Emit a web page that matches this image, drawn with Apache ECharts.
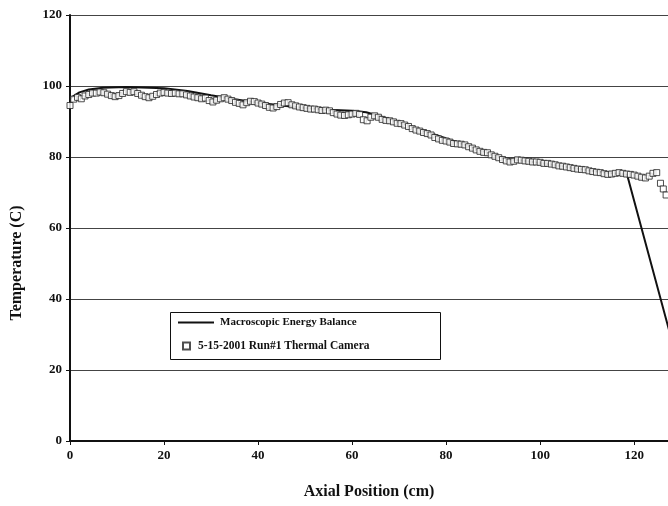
<!DOCTYPE html>
<html>
<head>
<meta charset="utf-8">
<script src="https://cdn.jsdelivr.net/npm/echarts@6/dist/echarts.min.js"></script>
<style>
  html, body { margin: 0; padding: 0; background: #fff; }
  #chart { width: 668px; height: 506px; }
</style>
</head>
<body>
<div id="chart"></div>
<script>
// Macroscopic energy balance model, [axial position (cm), temperature (C)]
const balanceLine = [
  [0, 96.5], [2, 98.2], [4, 99], [7, 99.5], [12, 99.7], [20, 99.4], [25, 98.6],
  [30, 97.4], [35, 96.3], [40, 95.3], [45, 94.5], [50, 93.8], [55, 93.3],
  [60, 93], [63, 92.6], [66, 91.5], [70, 89.8], [75, 87.5], [80, 85.2],
  [85, 83], [90, 80.6], [93, 79.4], [96, 79], [100, 78.3], [105, 77.3],
  [110, 76.3], [115, 75.5], [118.5, 75], [130, 18.6]
];

// Thermal camera readings, 5-15-2001 run #1
const cameraPoints = [
  [0, 94.5], [0.8, 96.3], [1.6, 96.8], [2.4, 96.4], [3.2, 97.2], [4, 97.6], [4.8, 98],
  [5.6, 98], [6.4, 98.3], [7.2, 98.1], [8, 97.7], [8.8, 97.3], [9.6, 97],
  [10.4, 97.3], [11.2, 97.9], [12, 98.4], [12.8, 98.2], [13.6, 98.4], [14.4, 97.9],
  [15.2, 97.4], [16, 97], [16.8, 96.7], [17.6, 97.1], [18.4, 97.6], [19.2, 98],
  [20, 98.2], [20.8, 98], [21.6, 97.9], [22.4, 98], [23.2, 97.8], [24, 97.8],
  [24.8, 97.5], [25.6, 97.2], [26.4, 96.9], [27.2, 96.7], [28, 96.4], [28.8, 96.6],
  [29.6, 95.9], [30.4, 95.5], [31.2, 96], [32, 96.4], [32.8, 96.7], [33.6, 96.3],
  [34.4, 95.9], [35.2, 95.4], [36, 95.1], [36.8, 94.7], [37.6, 95.3], [38.4, 95.7],
  [39.2, 95.6], [40, 95.2], [40.8, 94.9], [41.6, 94.5], [42.4, 94], [43.2, 93.8],
  [44, 94.2], [44.8, 94.8], [45.6, 95.2], [46.4, 95.3], [47.2, 94.7], [48, 94.4],
  [48.8, 94.1], [49.6, 93.9], [50.4, 93.7], [51.2, 93.5], [52, 93.5], [52.8, 93.3],
  [53.6, 93.1], [54.4, 93.2], [55.2, 93], [56, 92.5], [56.8, 92.1], [57.6, 91.8],
  [58.4, 91.7], [59.2, 91.9], [60, 92.1], [60.8, 92.3], [61.6, 92], [62.4, 90.5],
  [63.2, 90.2], [64, 91.2], [64.8, 91.6], [65.6, 91.2], [66.4, 90.6], [67.2, 90.3],
  [68, 90.2], [68.8, 89.9], [69.6, 89.5], [70.4, 89.4], [71.2, 89], [72, 88.6],
  [72.8, 88], [73.6, 87.6], [74.4, 87.3], [75.2, 86.9], [76, 86.6], [76.8, 86.2],
  [77.6, 85.5], [78.4, 85.1], [79.2, 84.7], [80, 84.5], [80.8, 84.2], [81.6, 83.8],
  [82.4, 83.7], [83.2, 83.6], [84, 83.4], [84.8, 82.9], [85.6, 82.5], [86.4, 82],
  [87.2, 81.6], [88, 81.3], [88.8, 81.2], [89.6, 80.6], [90.4, 80.2], [91.2, 79.8],
  [92, 79.3], [92.8, 78.9], [93.6, 78.6], [94.4, 78.8], [95.2, 79.2], [96, 79.1],
  [96.8, 78.9], [97.6, 78.8], [98.4, 78.6], [99.2, 78.6], [100, 78.5], [100.8, 78.2],
  [101.6, 78.2], [102.4, 78], [103.2, 77.8], [104, 77.5], [104.8, 77.4], [105.6, 77.2],
  [106.4, 77], [107.2, 76.8], [108, 76.6], [108.8, 76.5], [109.6, 76.4], [110.4, 76.1],
  [111.2, 75.9], [112, 75.7], [112.8, 75.6], [113.6, 75.3], [114.4, 75.1], [115.2, 75.2],
  [116, 75.4], [116.8, 75.6], [117.6, 75.4], [118.4, 75.2], [119.2, 75.1], [120, 74.9],
  [120.8, 74.6], [121.6, 74.3], [122.4, 74.1], [123.2, 74.6], [124, 75.4], [124.8, 75.6],
  [125.6, 72.6], [126.2, 71], [126.8, 69.3]
];

const serif = '"Liberation Serif", "Times New Roman", serif';

const chart = echarts.init(document.getElementById('chart'));

const option = {
  animation: false,
  backgroundColor: '#fff',
  grid: { left: 70, right: 0, top: 15, bottom: 65 },
  xAxis: {
    type: 'value',
    min: 0,
    max: 127.2,
    interval: 20,
    name: 'Axial Position (cm)',
    nameLocation: 'middle',
    nameGap: 43,
    nameTextStyle: { fontFamily: serif, fontWeight: 'bold', fontSize: 16, color: '#111' },
    axisLine: { lineStyle: { color: '#111', width: 2 } },
    axisTick: { show: true, length: 4, lineStyle: { color: '#111', width: 1 } },
    axisLabel: { showMaxLabel: false, margin: 8, fontFamily: serif, fontWeight: 'bold', fontSize: 13, color: '#111' },
    splitLine: { show: false }
  },
  yAxis: {
    type: 'value',
    min: 0,
    max: 120,
    interval: 20,
    name: 'Temperature (C)',
    nameLocation: 'middle',
    nameGap: 45,
    nameTextStyle: { fontFamily: serif, fontWeight: 'bold', fontSize: 16, color: '#111', padding: [0, 70, 0, 0] },
    axisLine: { show: true, lineStyle: { color: '#111', width: 2 } },
    axisTick: { show: true, length: 4, lineStyle: { color: '#111', width: 1 } },
    axisLabel: { margin: 8, fontFamily: serif, fontWeight: 'bold', fontSize: 13, color: '#111' },
    splitLine: { show: true, lineStyle: { color: '#444', width: 1 } }
  },
  graphic: [{
    type: 'rect',
    shape: { x: 170.5, y: 312.5, width: 270, height: 47 },
    style: { fill: '#fff', stroke: '#111', lineWidth: 1 },
    z: 10
  }],
  legend: [{
    data: [{ name: 'Macroscopic Energy Balance', icon: 'rect' }],
    left: 178,
    top: 317,
    itemWidth: 36,
    itemHeight: 2,
    padding: 0,
    z: 20,
    textStyle: { fontFamily: serif, fontWeight: 'bold', fontSize: 11, color: '#111', padding: [0, 0, 0, 1] }
  }, {
    data: ['5-15-2001 Run#1 Thermal Camera'],
    left: 182,
    top: 340,
    itemWidth: 7,
    itemHeight: 7,
    padding: 0,
    z: 20,
    textStyle: { fontFamily: serif, fontWeight: 'bold', fontSize: 11.5, color: '#111', padding: [0, 0, 0, 3] }
  }],
  series: [{
    name: 'Macroscopic Energy Balance',
    type: 'line',
    data: balanceLine,
    symbol: 'none',
    lineStyle: { color: '#111', width: 2 },
    itemStyle: { color: '#111' },
    z: 2
  }, {
    name: '5-15-2001 Run#1 Thermal Camera',
    type: 'scatter',
    data: cameraPoints,
    symbol: 'rect',
    symbolSize: 6,
    itemStyle: { color: '#fff', borderColor: '#222', borderWidth: 1 },
    z: 3
  }]
};

chart.setOption(option);
</script>
</body>
</html>
